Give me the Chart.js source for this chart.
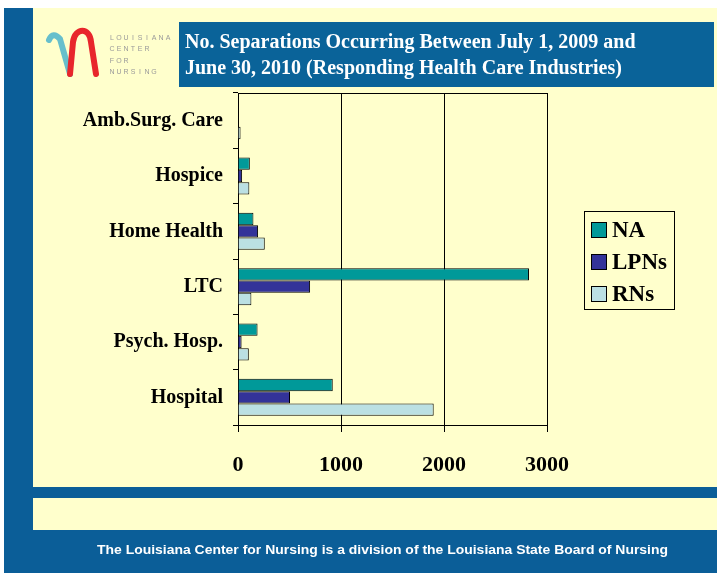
<!DOCTYPE html>
<html>
<head>
<meta charset="utf-8">
<script src="https://cdn.jsdelivr.net/npm/chart.js@4/dist/chart.umd.min.js"></script>
<style>
  html, body { margin: 0; padding: 0; background: #fff; }
  #wrap { position: relative; width: 717px; height: 575px; }
</style>
</head>
<body>
<div id="wrap"><canvas id="chart" width="717" height="575"></canvas></div>
<script>
// Data
const categories = ['Amb.Surg. Care', 'Hospice', 'Home Health', 'LTC', 'Psych. Hosp.', 'Hospital']
const naValues = [0, 115, 150, 2825, 190, 920]
const lpnValues = [0, 40, 195, 700, 35, 505]
const rnValues = [25, 110, 260, 130, 105, 1900]
const xTicks = [0, 1000, 2000, 3000]
const seriesNames = ['NA', 'LPNs', 'RNs']
const titleLines = [
  'No. Separations Occurring Between July 1, 2009 and',
  'June 30, 2010 (Responding Health Care Industries)',
]
const logoWords = ['LOUISIANA', 'CENTER', 'FOR', 'NURSING']
const footerText =
  'The Louisiana Center for Nursing is a division of the Louisiana State Board of Nursing'

const BLUE = '#0b5e98'
const CREAM = '#ffffcc'
const SERIF = '"Liberation Serif", "Times New Roman", serif'

// background, header box, logo, footer
const pageDecor = {
  id: 'pageDecor',
  beforeDraw(chart) {
    const ctx = chart.ctx
    ctx.save()
    ctx.fillStyle = '#fff'
    ctx.fillRect(0, 0, 717, 575)
    ctx.fillStyle = BLUE
    ctx.fillRect(4, 8, 29, 565)
    ctx.fillStyle = CREAM
    ctx.fillRect(33, 8, 684, 479)
    ctx.fillStyle = BLUE
    ctx.fillRect(33, 487, 684, 11)
    ctx.fillStyle = CREAM
    ctx.fillRect(33, 498, 684, 32)
    ctx.fillStyle = BLUE
    ctx.fillRect(33, 530, 684, 43)

    // title box
    ctx.fillStyle = '#0a6399'
    ctx.fillRect(179, 22, 535, 65)
    ctx.fillStyle = '#fff'
    ctx.font = 'bold 20px ' + SERIF
    ctx.textBaseline = 'middle'
    ctx.textAlign = 'left'
    ctx.fillText(titleLines[0], 185, 43)
    ctx.fillText(titleLines[1], 185, 69)

    // logo
    ctx.lineCap = 'round'
    ctx.lineJoin = 'round'
    ctx.lineWidth = 6
    ctx.strokeStyle = '#67bfcc'
    ctx.beginPath()
    ctx.moveTo(49, 40)
    ctx.quadraticCurveTo(53, 31, 60, 39)
    ctx.lineTo(70, 74)
    ctx.stroke()
    ctx.strokeStyle = '#e8262b'
    ctx.beginPath()
    ctx.moveTo(70, 74)
    ctx.lineTo(73, 42)
    ctx.bezierCurveTo(75, 27, 90, 27, 91, 42)
    ctx.lineTo(96, 74)
    ctx.stroke()

    ctx.fillStyle = '#9a9a9a'
    ctx.font = '7px "Liberation Sans", Arial, sans-serif'
    ctx.textAlign = 'center'
    logoWords.forEach((word, row) => {
      for (let i = 0; i < word.length; i++) {
        ctx.fillText(word[i], 112 + i * 7, 38 + row * 11.5)
      }
    })

    // footer text
    ctx.fillStyle = '#fff'
    ctx.font = 'bold 13px "Liberation Sans", Arial, sans-serif'
    const w = ctx.measureText(footerText).width
    ctx.translate(97, 550)
    ctx.scale(571 / w, 1)
    ctx.textAlign = 'left'
    ctx.fillText(footerText, 0, 0)
    ctx.restore()
  },
}

// border around plot + legend
const chartAreaBorder = {
  id: 'chartAreaBorder',
  afterDraw(chart) {
    const { ctx, chartArea: { left, top, right } } = chart
    ctx.save()
    ctx.strokeStyle = '#000'
    ctx.lineWidth = 1
    ctx.beginPath()
    ctx.moveTo(left, top + 0.5)
    ctx.lineTo(right, top + 0.5)
    ctx.stroke()

    // legend
    ctx.fillStyle = CREAM
    ctx.fillRect(584, 211, 90, 98)
    ctx.strokeRect(584.5, 211.5, 90, 98)
    ctx.font = 'bold 23px ' + SERIF
    ctx.textBaseline = 'middle'
    chart.data.datasets.forEach((ds, i) => {
      const y = 230 + i * 32
      ctx.fillStyle = ds.backgroundColor
      ctx.fillRect(591.5, y - 7.5, 15, 15)
      ctx.strokeRect(591.5, y - 7.5, 15, 15)
      ctx.fillStyle = '#000'
      ctx.fillText(ds.label, 612, y + 1)
    })
    ctx.restore()
  },
}

const makeSet = (label, data, color) => ({
  label,
  data,
  backgroundColor: color,
  borderColor: '#000',
  borderWidth: 1,
  categoryPercentage: 0.67,
  barPercentage: 1,
})

new Chart(document.getElementById('chart'), {
  type: 'bar',
  data: {
    labels: categories,
    datasets: [
      makeSet(seriesNames[0], naValues, '#009999'),
      makeSet(seriesNames[1], lpnValues, '#333399'),
      makeSet(seriesNames[2], rnValues, '#bbe0e3'),
    ],
  },
  options: {
    indexAxis: 'y',
    responsive: false,
    animation: false,
    layout: {
      padding: { left: 33, right: 170, top: 93, bottom: 50 },
    },
    plugins: {
      legend: { display: false },
      tooltip: { enabled: false },
    },
    scales: {
      x: {
        min: 0,
        max: 3000,
        afterBuildTicks: (scale) => {
          scale.ticks = xTicks.map((v) => ({ value: v }))
        },
        afterFit: (scale) => {
          scale.height = 100
        },
        grid: {
          color: '#000',
          lineWidth: 1,
          tickLength: 7,
          tickColor: '#000',
        },
        border: { display: true, color: '#000' },
        ticks: {
          color: '#000',
          callback: (val) => String(val),
          font: { family: SERIF, size: 22, weight: 'bold' },
          padding: 20,
          maxRotation: 0,
        },
      },
      y: {
        afterFit: (scale) => {
          scale.width = 205
        },
        grid: {
          drawOnChartArea: false,
          tickLength: 5,
          tickColor: '#000',
        },
        border: { display: true, color: '#000' },
        ticks: {
          color: '#000',
          font: { family: SERIF, size: 20, weight: 'bold' },
          padding: 10,
        },
      },
    },
  },
  plugins: [pageDecor, chartAreaBorder],
})
</script>
</body>
</html>
